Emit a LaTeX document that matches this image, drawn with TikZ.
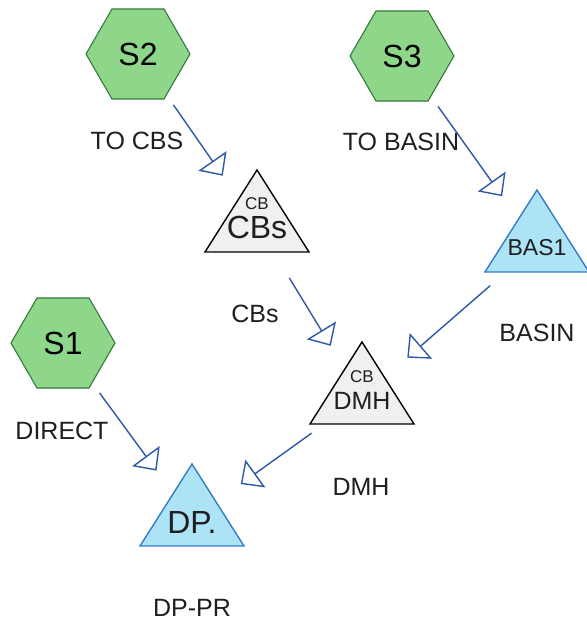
\documentclass[tikz,border=0pt]{standalone}
\usepackage{fontspec}
\setmainfont{Liberation Sans}
\usetikzlibrary{shapes.geometric,arrows.meta,calc}

\definecolor{hexfill}{RGB}{142,214,138}
\definecolor{hexline}{RGB}{52,122,58}
\definecolor{bluefill}{RGB}{172,228,246}
\definecolor{blueline}{RGB}{52,124,196}
\definecolor{greyfill}{RGB}{240,240,240}
\definecolor{flowline}{RGB}{44,88,166}

\tikzset{
  hexnode/.style={regular polygon, regular polygon sides=6, minimum size=104pt,
    inner sep=0pt, fill=hexfill, draw=hexline, line width=1.1pt,
    font=\fontsize{32}{32}\selectfont},
  greytri/.style={fill=greyfill, draw=black, line width=1.4pt, line join=miter},
  bluetri/.style={fill=bluefill, draw=blueline, line width=1.4pt, line join=miter},
  lbl/.style={inner sep=0pt, font=\fontsize{25}{25}\selectfont, text=black!88},
  bigtxt/.style={inner sep=0pt, font=\fontsize{32}{32}\selectfont, text=black!88},
  smalltxt/.style={inner sep=0pt, font=\fontsize{17}{17}\selectfont, text=black!88},
  flow/.style={draw=flowline, line width=1.4pt, shorten <=62pt, shorten >=60pt,
    -{Triangle[open, length=18pt, width=34pt, line width=1.4pt]}},
}

% triangle of 104 x 82 drawn around its centroid
\newcommand\flowtri[3]{%
  \coordinate (#1) at (#2);
  \draw[#3] ($(#1)+(0,55)$) -- ($(#1)+(-52,-27)$) -- ($(#1)+(52,-27)$) -- cycle;
}

\begin{document}
\begin{tikzpicture}[x=1pt,y=1pt]
\useasboundingbox (0,0) rectangle (587,625);

% sources
\node[hexnode] (S2) at (138,571) {S2};
\node[hexnode] (S3) at (402,569) {S3};
\node[hexnode] (S1) at (63,282) {S1};

% triangles
\flowtri{CBs}{257,400}{greytri}
\flowtri{BAS1}{537,380}{bluetri}
\flowtri{DMH}{362,228}{greytri}
\flowtri{DP}{192,106}{bluetri}

% texts inside the triangles
\node[smalltxt] (cbsTop) at (257,421) {CB};
\node[bigtxt]   (cbsName) at (257,398) {CBs};
\node[lbl, font=\fontsize{23}{23}\selectfont] (basName) at (537,377) {BAS1};
\node[smalltxt] (dmhTop) at (362,248) {CB};
\node[lbl]      (dmhName) at (362,224) {DMH};
\node[bigtxt]   (dpName) at (192,103) {DP.};

% flow labels
\node[lbl] (lToCbs) at (137,484) {TO CBS};
\node[lbl] (lToBasin) at (401,483) {TO BASIN};
\node[lbl] (lCbs) at (255,311) {CBs};
\node[lbl] (lBasin) at (537,292) {BASIN};
\node[lbl] (lDirect) at (62,194) {DIRECT};
\node[lbl] (lDmh) at (361,138) {DMH};
\node[lbl] (lDppr) at (192,17) {DP-PR};

% connectors
\draw[flow] (S2.center) -- (CBs);
\draw[flow] (S3.center) -- (BAS1);
\draw[flow] (CBs) -- (DMH);
\draw[flow] (BAS1) -- (DMH);
\draw[flow] (S1.center) -- (DP);
\draw[flow] (DMH) -- (DP);
\end{tikzpicture}
\end{document}
